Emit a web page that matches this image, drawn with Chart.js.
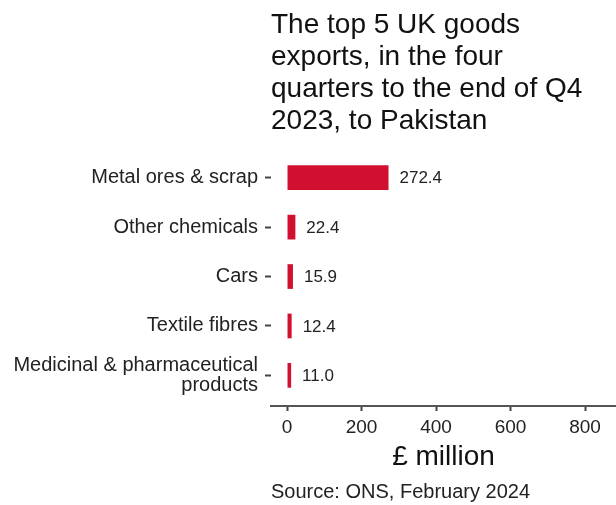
<!DOCTYPE html>
<html>
<head>
<meta charset="utf-8">
<script src="https://cdn.jsdelivr.net/npm/chart.js@4"></script>
<style>
  html, body { margin: 0; padding: 0; background: #ffffff; }
  #wrap { width: 616px; height: 505px; }
</style>
</head>
<body>
<div id="wrap"><canvas id="c" width="616" height="505"></canvas></div>
<script>
// ---- data ----
const categories = [
  'Metal ores & scrap',
  'Other chemicals',
  'Cars',
  'Textile fibres',
  ['Medicinal & pharmaceutical', 'products']
];
const exportValues = [272.4, 22.4, 15.9, 12.4, 11.0];
const xTickValues = [0, 200, 400, 600, 800];
const titleLines = [
  'The top 5 UK goods',
  'exports, in the four',
  'quarters to the end of Q4',
  '2023, to Pakistan'
];
const xAxisTitle = '£ million';
const sourceText = 'Source: ONS, February 2024';

// ---- chart ----
const FONT = "'Liberation Sans', Arial, Helvetica, sans-serif";
const points = exportValues.map((v, i) => ({ x: v, y: i }));

const valueLabels = {
  id: 'valueLabels',
  afterDatasetsDraw(chart) {
    const ctx = chart.ctx;
    const meta = chart.getDatasetMeta(0);
    ctx.save();
    ctx.font = '17px ' + FONT;
    ctx.fillStyle = '#222222';
    ctx.textAlign = 'left';
    ctx.textBaseline = 'middle';
    meta.data.forEach((el, i) => {
      ctx.fillText(exportValues[i].toFixed(1), el.x + 11, el.y + 1);
    });
    ctx.restore();
  }
};

new Chart(document.getElementById('c'), {
  type: 'bar',
  data: {
    datasets: [{
      data: points,
      backgroundColor: '#d10f2e',
      borderWidth: 0,
      barPercentage: 0.5,
      categoryPercentage: 1.0
    }]
  },
  options: {
    indexAxis: 'y',
    responsive: false,
    devicePixelRatio: 1,
    animation: false,
    layout: { padding: { left: 0, right: 0, top: 0, bottom: 0 } },
    plugins: {
      legend: { display: false },
      tooltip: { enabled: false },
      title: {
        display: true,
        text: titleLines,
        align: 'start',
        fullSize: false,
        color: '#111111',
        font: { family: FONT, size: 28, weight: 'normal', lineHeight: 1.143 },
        padding: { top: 9, bottom: 16 }
      },
      subtitle: {
        display: true,
        text: sourceText,
        position: 'bottom',
        align: 'start',
        fullSize: false,
        color: '#222222',
        font: { family: FONT, size: 20, weight: 'normal', lineHeight: 1.2 },
        padding: { top: 4, bottom: 1 }
      }
    },
    scales: {
      x: {
        type: 'linear',
        min: -43,
        max: 883,
        afterBuildTicks(scale) {
          scale.ticks = xTickValues.map(v => ({ value: v }));
        },
        afterFit(scale) { scale.height = 70; },
        border: { display: true, color: '#555555', width: 2 },
        grid: {
          display: true,
          drawOnChartArea: false,
          drawTicks: true,
          tickLength: 5,
          tickColor: '#444444',
          tickWidth: 2
        },
        ticks: {
          color: '#222222',
          font: { family: FONT, size: 19 },
          padding: 5,
          maxRotation: 0
        },
        title: {
          display: true,
          text: xAxisTitle,
          color: '#111111',
          font: { family: FONT, size: 28 },
          padding: { top: 1, bottom: 2 }
        }
      },
      y: {
        type: 'linear',
        reverse: true,
        offset: false,
        min: -0.5,
        max: 4.62,
        afterBuildTicks(scale) {
          scale.ticks = categories.map((_, i) => ({ value: i }));
        },
        afterFit(scale) { scale.width = 271; },
        border: { display: false },
        grid: {
          display: true,
          offset: false,
          drawOnChartArea: false,
          drawTicks: true,
          tickLength: 6,
          tickColor: '#444444',
          tickWidth: 2
        },
        ticks: {
          color: '#222222',
          font: { family: FONT, size: 20, lineHeight: 1.0 },
          padding: 7,
          callback: (v) => categories[v]
        }
      }
    }
  },
  plugins: [valueLabels]
});
</script>
</body>
</html>
